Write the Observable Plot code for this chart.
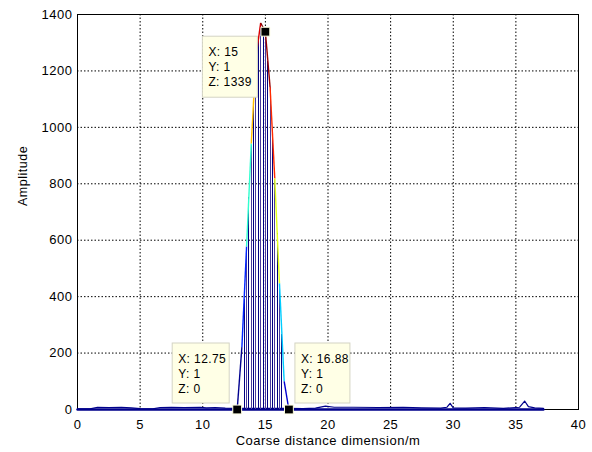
<!DOCTYPE html>
<html>
<head>
<meta charset="utf-8">
<script src="https://cdn.jsdelivr.net/npm/d3@7"></script>
<script src="https://cdn.jsdelivr.net/npm/@observablehq/plot@0.6"></script>
<style>
  html, body { margin: 0; padding: 0; background: #fff; }
  #chart { width: 592px; height: 452px; }
</style>
</head>
<body>
<div id="chart"></div>
<script>
// ---- data ----
const xTicks = [0, 5, 10, 15, 20, 25, 30, 35, 40];
const yTicks = [0, 200, 400, 600, 800, 1000, 1200, 1400];

// peak envelope (mesh edge seen from the side)
const envX = [12.75, 13.125, 13.5, 13.875, 14.25, 14.625, 15, 15.375, 15.75, 16.125, 16.5, 16.875];
const envZ = [0, 221, 578, 943, 1250, 1370, 1339, 1143, 819, 447, 100, 0];

// vertical mesh lines inside the peak
const colX = [13.3125, 13.5, 13.6875, 13.875, 14.0625, 14.25, 14.4375, 14.625, 14.8125, 15, 15.1875, 15.375, 15.5625, 15.75, 15.9375, 16.125, 16.3125];
const colZ = [390, 570, 750, 935, 1090, 1240, 1310, 1365, 1352, 1335, 1235, 1140, 975, 815, 625, 440, 265];

// low-level floor / noise
const floorX = [0, 37.2];
const floorZ = [0, 0];
const noiseX = [0, 1, 1.6, 2.5, 3.5, 4.3, 5, 6, 6.6, 7.5, 8.5, 9.8, 10.3, 11, 11.8, 12.75, 16.875, 18, 19, 19.8, 20.5, 22, 24, 26, 27.5, 29, 29.5, 29.75, 30, 31, 32.5, 34, 35.3, 35.7, 36, 36.5, 37.2];
const noiseZ = [2, 2, 8, 7, 8, 6, 3, 2, 7, 8, 7, 8, 6, 7, 5, 4, 4, 3, 5, 12, 8, 8, 7, 8, 6, 5, 8, 22, 6, 5, 7, 4, 8, 30, 10, 6, 4];

// data tips
const tipX = [15, 12.75, 16.88];
const tipY = [1, 1, 1];
const tipZ = [1339, 0, 0];

// jet colormap stops
const jetStops = [0, 0.125, 0.375, 0.625, 0.875, 1];
const jetColors = ["#00008f", "#0000ff", "#00ffff", "#ffff00", "#ff0000", "#800000"];
const zMax = 1370;

// ---- derived tables ----
const segs = envX.slice(0, -1).map((x, i) => ({x1: x, z1: envZ[i], x2: envX[i + 1], z2: envZ[i + 1]}));
const cols = colX.map((x, i) => ({x, z: colZ[i], i}));
const floor = floorX.map((x, i) => ({x, z: floorZ[i]}));
const noise = noiseX.map((x, i) => ({x, z: noiseZ[i]}));
const tips = tipX.map((x, i) => ({x, y: tipY[i], z: tipZ[i]}));

const font = "'Liberation Sans', Arial, sans-serif";

const plot = Plot.plot({
  width: 592,
  height: 452,
  marginLeft: 77,
  marginRight: 14,
  marginTop: 14,
  marginBottom: 43,
  style: {fontFamily: font, fontSize: "13px", background: "#fff", color: "#000", overflow: "visible"},
  x: {domain: [0, 40], ticks: xTicks, tickSize: 0, tickPadding: 10, tickFormat: d => String(d), label: null},
  y: {domain: [0, 1400], ticks: yTicks, tickSize: 0, tickPadding: 5, tickFormat: d => String(d), label: null},
  color: {type: "linear", domain: jetStops.map(t => t * zMax), range: jetColors},
  marks: [
    Plot.ruleX(xTicks, {stroke: "#000", strokeDasharray: "1.5,2", strokeWidth: 1}),
    Plot.ruleY(yTicks, {stroke: "#000", strokeDasharray: "1.5,2", strokeWidth: 1}),
    Plot.frame({stroke: "#000", strokeWidth: 1}),
    Plot.line(noise, {x: "x", y: "z", stroke: "#00008b", strokeWidth: 1.2}),
    Plot.line(floor, {x: "x", y: "z", stroke: "#00008b", strokeWidth: 2.4}),
    Plot.ruleX(cols.filter(d => d.i % 2 === 0), {x: "x", y1: 0, y2: "z", stroke: "#000080", strokeWidth: 1, shapeRendering: "crispEdges"}),
    Plot.ruleX(cols.filter(d => d.i % 2 === 1), {x: "x", y1: 0, y2: "z", stroke: "#4a3c9c", strokeWidth: 1, shapeRendering: "crispEdges"}),
    Plot.link(segs, {x1: "x1", y1: "z1", x2: "x2", y2: "z2", stroke: "z1", strokeWidth: 1.4}),
    Plot.dot(tips, {x: "x", y: "z", symbol: "square", r: 5, fill: "#000", stroke: "#ffffe1", strokeWidth: 1}),
    Plot.text(["Amplitude"], {text: d => d, frameAnchor: "left", dx: -55, dy: -6, rotate: -90, fontSize: 12.5, fill: "#000"}),
    Plot.text(["Coarse distance dimension/m"], {text: d => d, frameAnchor: "bottom", dy: 35, fontSize: 13, fill: "#000"})
  ]
});

document.getElementById("chart").appendChild(plot);

// letter-spacing to mimic the slightly wide rendering
d3.select(plot).selectAll("text").style("letter-spacing", "0.5px");

// data-tip boxes, placed through the plot's own scales
const sx = plot.scale("x"), sy = plot.scale("y");
const boxes = [
  {dx: -62.5, dy: 5, w: 55, h: 61},
  {dx: -64.5, dy: -66, w: 57, h: 60},
  {dx: 6.5, dy: -66, w: 55, h: 60}
];
const svg = d3.select(plot);
const g = svg.append("g").attr("font-family", font).attr("font-size", 12).attr("text-anchor", "start");
tips.forEach((t, i) => {
  const px = sx.apply(t.x), py = sy.apply(t.z);
  const b = boxes[i];
  const left = px + b.dx, top = py + b.dy;
  g.append("rect")
    .attr("x", left).attr("y", top).attr("width", b.w).attr("height", b.h)
    .attr("fill", "#ffffe6").attr("stroke", "#d4d4c4").attr("stroke-width", 1);
  const lines = ["X: " + t.x, "Y: " + t.y, "Z: " + t.z];
  lines.forEach((s, k) => {
    g.append("text").attr("x", left + 6).attr("y", top + 20 + k * 15)
      .attr("text-anchor", "start")
      .attr("fill", "#000").style("letter-spacing", "0.4px").text(s);
  });
});
</script>
</body>
</html>
